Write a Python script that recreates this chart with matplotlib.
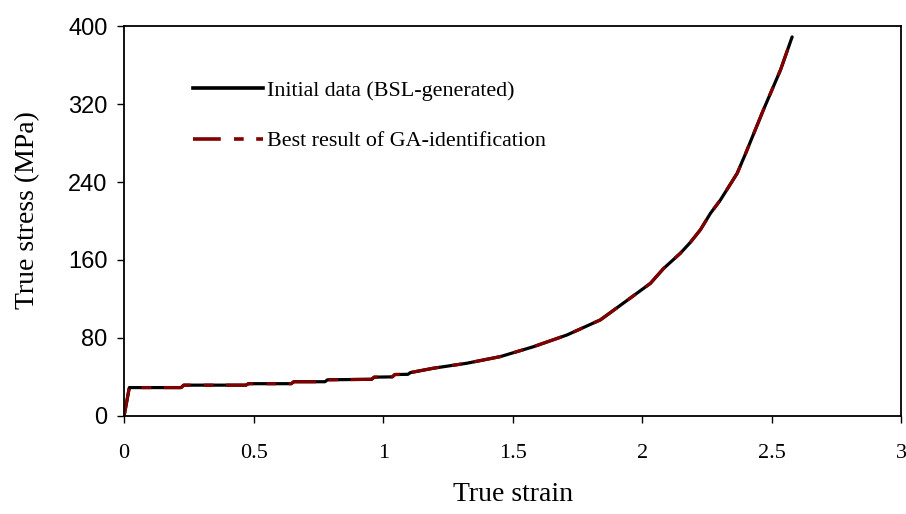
import matplotlib.pyplot as plt
from matplotlib.lines import Line2D

plt.rcParams['lines.scale_dashes'] = False

# stress-strain curve (true strain, true stress in MPa), stepped plateau then hardening
strain = [0.0, 0.02, 0.22, 0.23, 0.47, 0.48, 0.645, 0.655, 0.775, 0.785,
          0.955, 0.965, 1.035, 1.045, 1.095, 1.105, 1.194, 1.323, 1.452,
          1.580, 1.709, 1.838, 1.954, 2.031, 2.081, 2.147, 2.185, 2.224,
          2.263, 2.301, 2.366, 2.398, 2.467, 2.533, 2.578]
stress_bsl = [0.0, 29, 29, 31.5, 31.5, 33, 33, 35, 35, 37,
              37.5, 39.7, 40, 42.4, 42.6, 44.4, 48.9, 54, 60.8,
              71, 83, 98.5, 121, 136, 151, 167, 178, 191,
              208, 221.5, 249, 269, 314, 355, 389]
stress_ga = stress_bsl

RED = '#800000'
GA_DASH = [20, 9.5, 7, 9]

fig = plt.figure(figsize=(9.06, 5.14), dpi=100)
ax = fig.add_axes([0.137, 0.191, 0.858, 0.758])

ax.plot(strain, stress_bsl, color='black', lw=2.3, solid_capstyle='round')
ga, = ax.plot(strain, stress_ga, color=RED, lw=2.3)
ga.set_dashes(GA_DASH)

ax.set_xlim(0, 3)
ax.set_ylim(0, 400)
ax.set_xticks([0, 0.5, 1, 1.5, 2, 2.5, 3])
ax.set_xticklabels(['0', '0.5', '1', '1.5', '2', '2.5', '3'],
                   family='Liberation Serif', fontsize=16)
ax.set_yticks([0, 80, 160, 240, 320, 400])
ax.set_yticklabels(['0', '80', '160', '240', '320', '400'],
                   family='Liberation Sans', fontsize=17)
ax.tick_params(axis='x', direction='out', length=5, width=1, pad=15)
ax.tick_params(axis='y', direction='out', length=5, width=1, pad=7)
for s in ax.spines.values():
    s.set_linewidth(1.3)

ax.set_xlabel('True strain', family='Liberation Serif', fontsize=20, labelpad=14)
ax.set_ylabel('True stress (MPa)', family='Liberation Serif', fontsize=20)
ax.yaxis.set_label_coords(-0.108, 0.528)

h_black = Line2D([], [], color='black', lw=2.6)
h_red = Line2D([], [], color=RED, lw=2.6, dashes=GA_DASH)
ax.legend([h_black, h_red],
          ['Initial data (BSL-generated)', 'Best result of GA-identification'],
          loc='upper left', bbox_to_anchor=(0.063, 0.912), frameon=False,
          prop={'family': 'Liberation Serif', 'size': 15.8},
          handlelength=3.2, handletextpad=0.18, labelspacing=1.38)

fig.savefig('out.png', dpi=100)
